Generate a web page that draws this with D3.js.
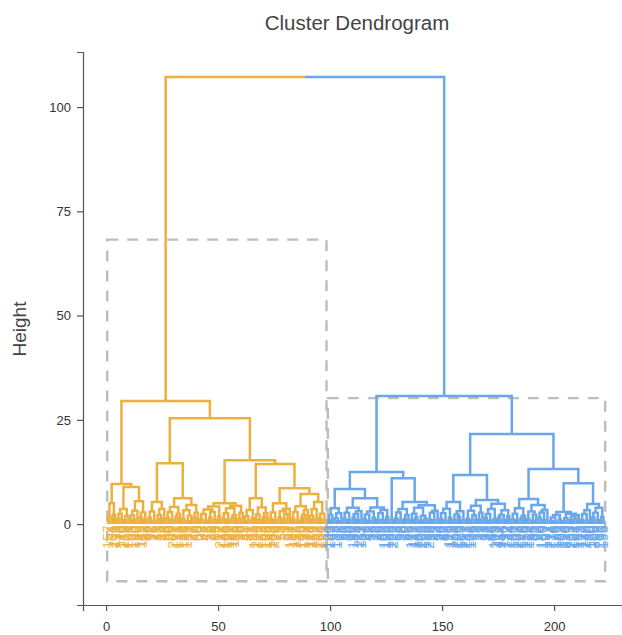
<!DOCTYPE html>
<html lang="en">
<head>
<meta charset="UTF-8">
<title>Cluster Dendrogram</title>
<script src="https://cdn.jsdelivr.net/npm/d3@7/dist/d3.min.js"></script>
<style>
  body { margin: 0; background: #fff; }
  svg { display: block; font-family: "Liberation Sans", Arial, sans-serif; }
</style>
</head>
<body>
<script>
// heights at which neighbouring leaves join (leaf i with leaf i+1)
const leftGaps = [
  1.8, 5.0, 2.3, 9.6, 1.2, 2.5, 3.6, 0.9, 1.9, 8.9,
  2.1, 1.0, 3.2, 5.5, 1.6, 2.8, 1.1, 29.5,
  1.5, 3.0, 0.8, 5.3, 2.2, 1.3, 3.6, 14.6,
  1.4, 2.9, 0.9, 4.1, 1.7, 2.5, 6.2, 1.2, 3.3, 0.7, 2.0, 4.6, 1.5, 2.7, 25.4,
  1.1, 2.4, 0.8, 3.5, 1.6, 2.9, 1.0, 4.2, 1.8, 5.0, 1.3, 2.6, 0.9, 3.8, 1.5, 2.2, 4.4, 1.2, 2.7, 15.3,
  1.9, 0.8, 3.4, 1.4, 6.2, 2.3, 1.0, 4.0, 1.7, 2.6, 14.4,
  1.3, 2.8, 0.9, 5.0, 1.6, 3.1, 1.1, 2.4, 3.7, 8.6,
  1.2, 2.9, 0.8, 4.3, 1.5, 2.2, 3.4, 7.2,
  2.0, 1.1, 3.6, 5.3, 1.4, 2.5, 0.9
];
const rootHeight = 107.2;
const rightGaps = [
  1.0, 2.2, 3.8, 1.4, 0.7, 2.6, 8.4,
  1.3, 2.7, 0.9, 3.9, 1.6, 2.4, 1.0, 3.1, 6.2,
  1.2, 2.3, 0.8, 3.0, 1.5, 4.0, 1.1, 2.6, 0.9, 3.4, 1.7, 12.5,
  0.9, 11.0,
  1.4, 2.8, 0.9, 3.6, 1.2, 2.2, 5.3, 1.0, 2.5, 1.6, 3.9, 0.8, 2.0, 1.3, 4.5, 1.1, 2.7, 0.9, 3.2, 30.7,
  1.2, 2.6, 0.8, 3.7, 1.5, 5.3, 1.0, 2.3, 1.7, 3.1, 0.9, 11.8,
  1.3, 3.2, 0.9, 2.1, 4.4, 1.1, 2.7, 5.8, 1.5, 2.4, 0.8, 3.6, 1.2, 4.9, 1.6, 2.2, 1.0, 3.3, 1.9, 21.6,
  1.1, 2.5, 0.9, 3.8, 1.4, 2.0, 6.0, 1.2, 3.0, 0.8, 2.3, 4.6, 1.5, 2.8, 1.0, 3.4, 13.2,
  0.8, 1.6, 0.6, 2.2, 1.1, 2.9, 0.7, 1.4, 2.5, 0.9, 1.8, 1.2, 2.1, 9.8,
  1.0, 2.4, 0.8, 3.3, 4.8, 1.5, 2.7, 0.9, 3.9, 1.7
];

// leaf labels in dendrogram order
const leftLabels = [
  157, 4, 201, 119, 35, 176, 140, 213, 8, 101, 165, 128, 190, 57, 149, 112,
  63, 88, 12, 92, 26, 71, 43, 19, 84, 3, 66, 30, 95,
  207, 171, 136, 14, 184, 123, 159,
  51, 77, 40, 9, 60, 22, 98, 47, 73, 6, 33, 86, 55, 17,
  217, 145, 106, 196, 131, 162, 115,
  69, 28, 90, 2, 48, 37, 81, 11,
  179, 209, 125, 152, 64, 193, 108, 142, 168, 220,
  24, 75, 53, 1, 39, 97,
  134, 187, 117, 155, 16, 103, 199, 138, 174, 114, 182, 59, 127, 204, 150, 191, 121
];
const rightLabels = [
  100, 143, 7, 188, 132,
  18, 91, 50, 85, 34, 10,
  198, 65, 124, 211, 153,
  27, 96, 41, 58, 15, 72, 36, 89, 52,
  109, 185, 139, 166, 222,
  23, 68, 32, 76, 20, 62, 45,
  129, 113, 147, 181, 120, 203, 158, 135, 216,
  94, 25, 83, 54, 78, 49, 87, 99,
  110, 173, 151, 200, 126, 163, 107, 212, 141, 102, 186,
  5, 13, 21, 29, 31, 38, 42, 44, 46,
  105, 218, 111, 154, 116, 192, 122, 144, 130, 161, 137, 208, 148, 175, 156, 219, 164,
  56, 61, 67, 70,
  180, 169, 197, 172, 214, 74, 178, 189, 183, 202, 194, 210, 79, 205, 221, 104, 167, 133,
  118, 177, 146, 80, 170, 160, 206, 82, 215, 93, 195
];

// k = 2 boxes
const rectLeft = [0.5, 99.0];
const rectRight = [98.4, 222.8];
const rectTop = [68.2, 30.2];
const rectBottom = -13.7;

const clusterColors = ["#ECB040", "#6AA6EA"];
const xTicks = [0, 50, 100, 150, 200];
const yTicks = [0, 25, 50, 75, 100];

const gapHeights = leftGaps.concat([rootHeight], rightGaps);
const leafLabels = leftLabels.concat(rightLabels);

const width = 622, height = 635;
const svg = d3.select("body").append("svg")
  .attr("width", width)
  .attr("height", height);

const x = d3.scaleLinear().domain([-10.3, 230.3]).range([83, 622]);
const y = d3.scaleLinear().domain([-19.4, 113.2]).range([605, 52]);

// split each range of leaves at its highest join
function build(lo, hi) {
  if (lo === hi) return { label: leafLabels[lo], pos: lo + 1, h: 0 };
  let k = lo;
  for (let i = lo; i < hi; i++) if (gapHeights[i] > gapHeights[k]) k = i;
  return { h: gapHeights[k], children: [build(lo, k), build(k + 1, hi)] };
}

const root = d3.hierarchy(build(0, leafLabels.length - 1));
root.eachAfter(n => {
  if (n.children) n.data.pos = d3.mean(n.children, c => c.data.pos);
});
root.children.forEach((c, i) => c.each(n => n.cluster = i));

// boxes
svg.append("g").selectAll("rect")
  .data(rectTop)
  .join("rect")
  .attr("x", (d, i) => x(rectLeft[i]))
  .attr("y", d => y(d))
  .attr("width", (d, i) => x(rectRight[i]) - x(rectLeft[i]))
  .attr("height", d => y(rectBottom) - y(d))
  .attr("fill", "none")
  .attr("stroke", "#BDBDBD")
  .attr("stroke-width", 2.4)
  .attr("stroke-dasharray", "11,9");

// leaf labels
svg.append("g")
  .attr("font-size", 14)
  .selectAll("text")
  .data(root.leaves())
  .join("text")
  .attr("transform", d => `translate(${x(d.data.pos)},${y(-0.3)}) rotate(-90)`)
  .attr("text-anchor", "end")
  .attr("dominant-baseline", "central")
  .attr("fill", d => clusterColors[d.cluster])
  .attr("fill-opacity", 0.9)
  .text(d => d.data.label);

// branches
svg.append("g")
  .attr("fill", "none")
  .attr("stroke-width", 2.5)
  .selectAll("path")
  .data(root.descendants().slice(1))
  .join("path")
  .attr("stroke", d => clusterColors[d.cluster])
  .attr("d", d => `M${x(d.data.pos)},${y(d.data.h)}V${y(d.parent.data.h)}H${x(d.parent.data.pos)}`);

// axes
const axisColor = "#555";
const gy = svg.append("g")
  .attr("transform", "translate(83,0)")
  .call(d3.axisLeft(y).tickValues(yTicks).tickSize(6).tickPadding(6));
const gx = svg.append("g")
  .attr("transform", "translate(0,605)")
  .call(d3.axisBottom(x).tickValues(xTicks).tickSize(6).tickPadding(11));
[gx, gy].forEach(g => {
  g.select(".domain").attr("stroke", axisColor).attr("stroke-width", 1.2);
  g.selectAll(".tick line").attr("stroke", axisColor).attr("stroke-width", 1.2);
  g.selectAll(".tick text").attr("fill", "#333").attr("font-size", 13)
    .attr("font-family", "Liberation Sans, Arial, sans-serif");
});

svg.append("text")
  .attr("x", 357)
  .attr("y", 30)
  .attr("text-anchor", "middle")
  .attr("font-size", 20.5)
  .attr("fill", "#444")
  .text("Cluster Dendrogram");

svg.append("text")
  .attr("transform", "translate(26,329) rotate(-90)")
  .attr("text-anchor", "middle")
  .attr("font-size", 19)
  .attr("fill", "#444")
  .text("Height");
</script>
</body>
</html>
